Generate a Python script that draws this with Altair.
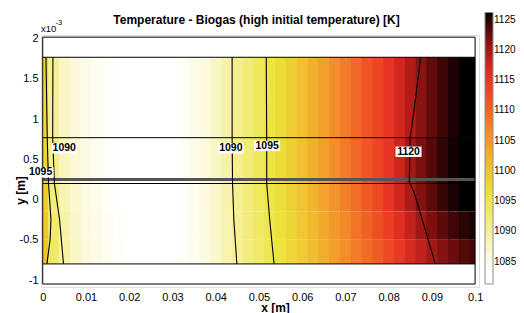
import altair as alt
import pandas as pd

# ---------------- data ----------------
chart_title = "Temperature - Biogas (high initial temperature) [K]"

# column centres along x [m] (y is in units of 1e-3 m)
x_cols = [0.0, 0.0025, 0.005, 0.0075, 0.01, 0.0125, 0.015, 0.0175, 0.02, 0.0225,
          0.025, 0.0275, 0.03, 0.0325, 0.035, 0.0375, 0.04, 0.0425, 0.045, 0.0475,
          0.05, 0.0525, 0.055, 0.0575, 0.06, 0.0625, 0.065, 0.0675, 0.07, 0.0725,
          0.075, 0.0775, 0.08, 0.0825, 0.085, 0.0875, 0.09, 0.0925, 0.095, 0.0975, 0.1]

# temperature [K] in five horizontal bands of the gas domain
band_top = [1.77, 0.77, 0.2, -0.15, -0.5]
band_bottom = [0.77, 0.2, -0.15, -0.5, -0.8]
temp_a = [1097, 1090.3, 1087.6, 1086.2, 1085.3, 1084.5, 1084, 1083.5, 1083.2, 1083,
          1083, 1083.2, 1083.5, 1084, 1085, 1086.1, 1087.5, 1089.2, 1090.8, 1092.4,
          1094, 1095.5, 1097, 1098.8, 1100.6, 1102.4, 1104.2, 1106, 1107.8, 1109.6,
          1111.4, 1113.2, 1115, 1117.1, 1119.3, 1121.2, 1122.8, 1124.1, 1125.2, 1126.1, 1126.8]
temp_b = [1098, 1091, 1088, 1086.5, 1085.5, 1084.6, 1084, 1083.5, 1083.2, 1083,
          1083, 1083.2, 1083.5, 1084, 1085, 1086.1, 1087.5, 1089.2, 1090.8, 1092.4,
          1094, 1095.5, 1097, 1098.8, 1100.6, 1102.4, 1104.2, 1106, 1107.8, 1109.6,
          1111.4, 1113.3, 1115.3, 1117.6, 1120, 1121.8, 1123.3, 1124.6, 1125.6, 1126.4, 1127]
temp_c = [1099, 1092, 1088.6, 1086.9, 1085.8, 1084.9, 1084.2, 1083.7, 1083.4, 1083.1,
          1083.1, 1083.2, 1083.5, 1084, 1084.9, 1086, 1087.3, 1089, 1090.6, 1092.1,
          1093.7, 1095.1, 1096.6, 1098.3, 1100.1, 1101.9, 1103.7, 1105.5, 1107.3, 1109.1,
          1110.9, 1112.9, 1115, 1117.3, 1119.6, 1121.5, 1123, 1124.3, 1125.3, 1126.1, 1126.7]
temp_d = [1099.5, 1092.8, 1089.1, 1087.2, 1086, 1085.1, 1084.4, 1083.9, 1083.5, 1083.2,
          1083.1, 1083.2, 1083.5, 1084, 1084.8, 1085.9, 1087.2, 1088.8, 1090.4, 1091.9,
          1093.4, 1094.8, 1096.3, 1097.9, 1099.7, 1101.4, 1103.2, 1104.9, 1106.7, 1108.5,
          1110.3, 1112.1, 1114, 1116.1, 1118.2, 1120.1, 1121.7, 1123, 1124, 1124.8, 1125.4]
temp_e = [1100, 1093.5, 1089.6, 1087.5, 1086.2, 1085.2, 1084.5, 1084, 1083.6, 1083.3,
          1083.2, 1083.3, 1083.5, 1084, 1084.8, 1085.8, 1087.1, 1088.7, 1090.3, 1091.8,
          1093.2, 1094.6, 1096, 1097.6, 1099.3, 1101, 1102.7, 1104.4, 1106.1, 1107.7,
          1109.2, 1111, 1112.8, 1114.7, 1116.6, 1118.4, 1120, 1121.4, 1122.5, 1123.3, 1123.9]
band_temps = [temp_a, temp_b, temp_c, temp_d, temp_e]

# geometry
domain_x = [0.0, 0.1]
domain_y = [-1.05, 2.02]
thin_lines_y = [1.77, 0.77, 0.2, -0.8]
thick_lines_y = [0.25]

# contour lines (x, y)
contours = {
    "1095a": ([0.00074, 0.00104, 0.00134, 0.0019, 0.0017, 0.00097],
              [1.77, 0.77, 0.2, -0.25, -0.5, -0.8]),
    "1090a": ([0.00236, 0.0023, 0.0027, 0.0039, 0.0048],
              [1.77, 0.77, 0.2, -0.25, -0.8]),
    "1090b": ([0.0438, 0.0438, 0.0439, 0.0442, 0.0449],
              [1.77, 0.77, 0.2, -0.25, -0.8]),
    "1095b": ([0.0517, 0.0518, 0.0518, 0.0525, 0.0535],
              [1.77, 0.77, 0.2, -0.25, -0.8]),
    "1120": ([0.08744, 0.08536, 0.08497, 0.0848, 0.0857, 0.0880, 0.0908],
             [1.77, 0.90, 0.77, 0.22, 0.12, -0.29, -0.8]),
}

label_text = ["1090", "1095", "1090", "1095", "1120"]
label_x = [0.00497, -0.0005, 0.0435, 0.0519, 0.0846]
label_y = [0.638, 0.34, 0.638, 0.667, 0.595]

x_ticks = [0, 0.01, 0.02, 0.03, 0.04, 0.05, 0.06, 0.07, 0.08, 0.09, 0.1]
y_ticks = [-1, -0.5, 0, 0.5, 1, 1.5, 2]
legend_ticks = [1085, 1090, 1095, 1100, 1105, 1110, 1115, 1120, 1125]

color_stops = [1081.3, 1083.6, 1086.5, 1091, 1096, 1101, 1106, 1111, 1115.5, 1119, 1122.5, 1126.2]
color_range = ["#ffffff", "#ffffff", "#fbf8d6", "#f4ee8c", "#ece43a", "#f1bc30", "#f38e2a",
               "#f05a24", "#e83224", "#b81e1a", "#6c0c0c", "#000000"]

# ---------------- tables ----------------
half = (x_cols[1] - x_cols[0]) / 2
cells = []
for yt, yb, temps in zip(band_top, band_bottom, band_temps):
    for xc, t in zip(x_cols, temps):
        cells.append({
            "x": max(domain_x[0], xc - half),
            "x2": min(domain_x[1], xc + half + 0.0002),
            "y": yb, "y2": yt, "T": t,
        })
cells = pd.DataFrame(cells)

line_rows = []
for cid, (xs, ys) in contours.items():
    for i, (xv, yv) in enumerate(zip(xs, ys)):
        line_rows.append({"cid": cid, "i": i, "x": xv, "y": yv})
lines_df = pd.DataFrame(line_rows)

labels_df = pd.DataFrame({"text": label_text, "x": label_x, "y": label_y})
thin_df = pd.DataFrame({"y": thin_lines_y, "x": domain_x[0], "x2": domain_x[1]})
thick_df = pd.DataFrame({"y": thick_lines_y, "x": domain_x[0], "x2": domain_x[1]})
box_df = pd.DataFrame({"x": [domain_x[0]], "x2": [domain_x[1]],
                       "y": [domain_y[0]], "y2": [domain_y[1]]})

FONT = "Liberation Sans"

xscale = alt.Scale(domain=[-0.0004, 0.1009], nice=False, zero=False)
yscale = alt.Scale(domain=[-1.087, 2.047], nice=False, zero=False)

x_axis = alt.Axis(values=x_ticks, format="~g", ticks=False, tickSize=0, domain=False,
                  grid=False, labelFont=FONT, labelFontSize=11, labelColor="black",
                  labelPadding=4, labelFlush=False,
                  title="x [m]", titleFont=FONT, titleFontSize=12, titleFontWeight="bold",
                  titleColor="black", titleX=234, titleY=20, titleBaseline="middle",
                  titleAlign="center")
y_axis = alt.Axis(values=y_ticks, ticks=False, tickSize=0, domain=False, grid=False,
                  labelExpr="datum.value < 0 ? '-' + format(-datum.value, '~g') : format(datum.value, '~g')",
                  labelFont=FONT, labelFontSize=11, labelColor="black", labelPadding=3,
                  labelFlush=False,
                  title="y [m]", titleFont=FONT, titleFontSize=12, titleFontWeight="bold",
                  titleColor="black", titleX=-21, titleY=155, titleBaseline="middle",
                  titleAlign="center", titleAngle=270)

heat = alt.Chart(cells).mark_rect(strokeWidth=0).encode(
    x=alt.X("x:Q", scale=xscale, axis=x_axis),
    x2="x2:Q",
    y=alt.Y("y:Q", scale=yscale, axis=y_axis),
    y2="y2:Q",
    color=alt.Color("T:Q",
                    scale=alt.Scale(domain=color_stops, range=color_range, clamp=True,
                                    interpolate="rgb"),
                    legend=alt.Legend(orient="none", legendX=444, legendY=-22.5,
                                      direction="vertical", title=None, padding=0,
                                      gradientLength=271.5, gradientThickness=8,
                                      gradientStrokeColor="#8c8c8c", gradientStrokeWidth=1,
                                      values=legend_ticks, format="d", labelFont=FONT,
                                      labelFontSize=10, labelColor="black",
                                      labelOffset=1)),
)

box = alt.Chart(box_df).mark_rect(fill=None, stroke="black", strokeWidth=1).encode(
    x="x:Q", x2="x2:Q", y="y:Q", y2="y2:Q")

thin = alt.Chart(thin_df).mark_rule(color="black", strokeWidth=1).encode(
    x="x:Q", x2="x2:Q", y="y:Q")
thick = alt.Chart(thick_df).mark_rule(color="#555555", strokeWidth=3).encode(
    x="x:Q", x2="x2:Q", y="y:Q")

clines = alt.Chart(lines_df).mark_line(color="black", strokeWidth=1.1).encode(
    x="x:Q", y="y:Q", detail="cid:N", order="i:Q")

lbl_box = alt.Chart(labels_df).mark_point(
    shape="M-1,-0.4H1V0.4H-1Z", filled=True, fill="white", opacity=1, size=676,
    strokeWidth=0).encode(x="x:Q", y="y:Q")
lbl = alt.Chart(labels_df).mark_text(font=FONT, fontSize=10.5, fontWeight="bold",
                                     color="black", baseline="middle", align="center").encode(
    x="x:Q", y="y:Q", text="text:N")

title_mark = alt.Chart(pd.DataFrame({"t": [chart_title]})).mark_text(
    font=FONT, fontSize=12, fontWeight="bold", color="black", align="center",
    baseline="alphabetic").encode(text="t:N", x=alt.value(215.5), y=alt.value(-11))

exp_base = alt.Chart(pd.DataFrame({"t": ["x10"]})).mark_text(
    font=FONT, fontSize=9.5, color="black", align="left", baseline="alphabetic").encode(
    text="t:N", x=alt.value(0), y=alt.value(-3))
exp_sup = alt.Chart(pd.DataFrame({"t": ["-3"]})).mark_text(
    font=FONT, fontSize=7.5, color="black", align="left", baseline="alphabetic").encode(
    text="t:N", x=alt.value(14.5), y=alt.value(-10))

chart = alt.layer(heat, thin, thick, box, clines, lbl_box, lbl, title_mark,
                  exp_base, exp_sup).properties(
    width=438, height=252,
    padding={"left": 33, "top": 27, "right": 37, "bottom": 26},
    autosize=alt.AutoSizeParams(type="none"),
).configure_view(stroke="#8c8c8c", strokeWidth=2).configure(background="white")

chart.save("out.html", embed_options={"renderer": "svg", "actions": False})
